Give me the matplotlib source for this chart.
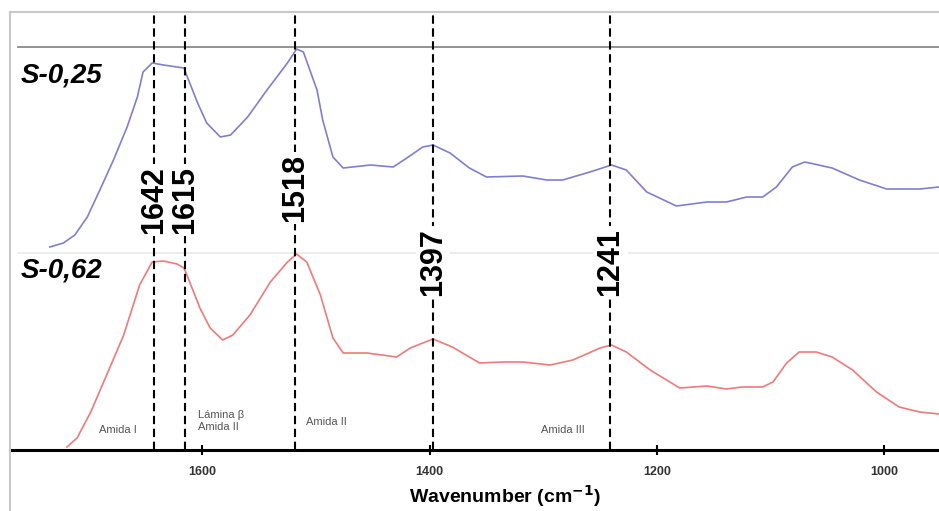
import numpy as np
import matplotlib
matplotlib.use("Agg")
import matplotlib.pyplot as plt
from matplotlib.lines import Line2D

plt.rcParams['font.family'] = ['Liberation Sans', 'DejaVu Sans']

# spectra (wavenumber cm-1, intensity a.u.)
wn_s025 = [1734, 1722, 1712, 1701, 1690, 1678, 1666, 1657, 1652, 1644, 1634, 1622,
           1616, 1612, 1604, 1596, 1584, 1575, 1560, 1543, 1525, 1517, 1511, 1499,
           1494, 1485, 1476, 1452, 1432, 1420, 1406, 1397, 1382, 1365, 1350, 1318,
           1297, 1283, 1259, 1240, 1227, 1209, 1183, 1156, 1139, 1121, 1107, 1095,
           1081, 1070, 1046, 1022, 998, 969, 952]
ab_s025 = [203, 207, 215, 233, 260, 290, 323, 353, 378, 387, 385, 383,
           382, 370, 347, 327, 313, 315, 333, 360, 387, 401, 398, 360,
           330, 293, 282, 285, 283, 292, 303, 305, 297, 282, 273, 274,
           270, 270, 278, 285, 280, 258, 244, 248, 248, 253, 253, 263,
           283, 288, 282, 270, 261, 261, 263]

wn_s062 = [1719, 1710, 1698, 1684, 1669, 1655, 1644, 1634, 1622, 1616, 1611, 1602,
           1593, 1582, 1573, 1558, 1540, 1525, 1517, 1508, 1496, 1485, 1476, 1455,
           1429, 1417, 1397, 1380, 1356, 1336, 1318, 1294, 1274, 1250, 1240, 1227,
           1206, 1180, 1156, 1139, 1125, 1107, 1098, 1086, 1075, 1060, 1046, 1028,
           1007, 987, 969, 952]
ab_s062 = [3, 12, 38, 75, 115, 165, 188, 189, 186, 182, 168, 142,
           122, 110, 115, 135, 168, 188, 196, 188, 155, 112, 97, 97,
           93, 102, 111, 103, 87, 88, 88, 85, 90, 102, 105, 98,
           80, 62, 64, 61, 63, 63, 68, 87, 98, 98, 93, 80,
           58, 43, 38, 36]

peaks = [1642, 1615, 1518, 1397, 1241]
peak_label_y = [250, 250, 262, 188, 188]

bands = ['Amida I', 'Lámina β\nAmida II', 'Amida II', 'Amida III']
band_x = [1674, 1604, 1509, 1283]
band_y = [20, 29, 28, 20]
band_ha = ['center', 'left', 'left', 'center']

fig = plt.figure(figsize=(9.39, 5.11), dpi=100)
ax = fig.add_axes([10 / 939, 61 / 511, 929 / 939, 438 / 511])
ax.set_xlim(1769, 952)
ax.set_ylim(0, 438)

# outer light frame
fig.add_artist(Line2D([10 / 939, 1], [499 / 511, 499 / 511], color='#c8c8c8', lw=1.5))
fig.add_artist(Line2D([10 / 939, 10 / 939], [0, 499 / 511], color='#c8c8c8', lw=1.5))

for s in ['top', 'right', 'left']:
    ax.spines[s].set_visible(False)
ax.spines['bottom'].set_linewidth(2.2)
ax.spines['bottom'].set_color('black')

# baseline guides
ax.plot([1762, 952], [403, 403], color='#8a8a8a', lw=1.3, zorder=1)
ax.plot([1762, 952], [197, 197], color='#ebebeb', lw=1.3, zorder=1)

ax.plot(wn_s025, ab_s025, color='#7f7fd2', lw=1.2, zorder=2)
ax.plot(wn_s062, ab_s062, color='#f07a7a', lw=1.2, zorder=2)

ax.vlines(peaks, 0, 438, colors='black', linestyles=(0, (4, 2.2)), lw=1.5, zorder=3)

for p, yl in zip(peaks, peak_label_y):
    ax.text(p, yl, str(p), rotation=90, ha='center', va='center', fontsize=22,
            fontweight='bold', zorder=4,
            bbox=dict(facecolor='white', edgecolor='none', pad=1.5))

ax.text(1760, 375, 'S-0,25', fontsize=20, fontweight='bold', fontstyle='italic',
        ha='left', va='center', zorder=4)
ax.text(1760, 180, 'S-0,62', fontsize=20, fontweight='bold', fontstyle='italic',
        ha='left', va='center', zorder=4,
        bbox=dict(facecolor='white', edgecolor='none', pad=2))

for t, x, y, ha in zip(bands, band_x, band_y, band_ha):
    ax.text(x, y, t, fontsize=8, color='#555555', ha=ha, va='center', zorder=4)

ax.set_xticks([1600, 1400, 1200, 1000])
ax.set_yticks([])
ax.tick_params(axis='x', direction='inout', length=7, width=1.5, colors='black',
               labelcolor='#333333', labelsize=9, pad=8)
for lab in ax.get_xticklabels():
    lab.set_fontweight('bold')

ax.set_xlabel(r'Wavenumber (cm$^{\mathbf{-1}}$)', fontsize=14, fontweight='bold')
ax.xaxis.set_label_coords(0.533, -0.075)

fig.savefig('out.png', dpi=100)
